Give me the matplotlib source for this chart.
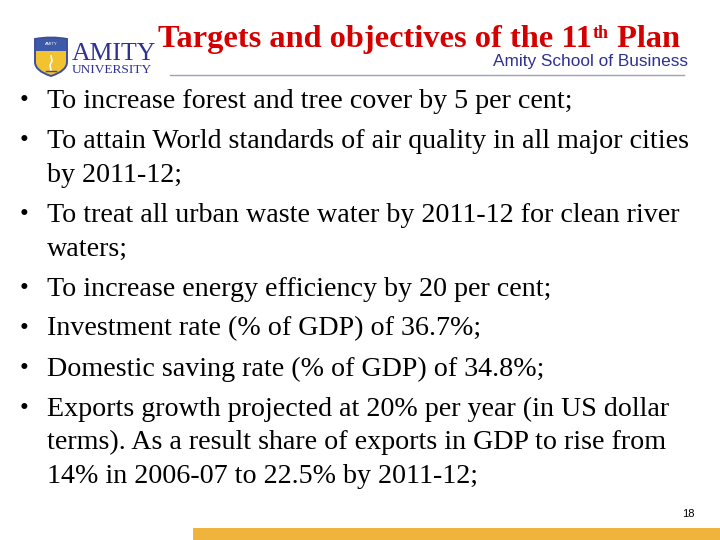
"""
Slide recreation: Targets and objectives of the 11th Plan.
"""
import matplotlib
matplotlib.use("Agg")
import matplotlib.pyplot as plt
import matplotlib.patches as mpatches
from matplotlib.path import Path as MPath

# ── Slide content ─────────────────────────────────────────────────────────────
title_main = "Targets and objectives of the 11"
title_sup = "th"
title_end = " Plan"
school = "Amity School of Business"
page_no = "18"

# each bullet is a list of its wrapped lines
bullets = [
    ["To increase forest and tree cover by 5 per cent;"],
    ["To attain World standards of air quality in all major cities",
     "by 2011-12;"],
    ["To treat all urban waste water by 2011-12 for clean river",
     "waters;"],
    ["To increase energy efficiency by 20 per cent;"],
    ["Investment rate (% of GDP) of 36.7%;"],
    ["Domestic saving rate (% of GDP) of 34.8%;"],
    ["Exports growth projected at 20% per year (in US dollar",
     "terms). As a result share of exports in GDP to rise from",
     "14% in 2006-07 to 22.5% by 2011-12;"],
]

SERIF = ["Liberation Serif", "DejaVu Serif"]
SANS = ["Liberation Sans", "DejaVu Sans"]
NAVY = "#2e3192"
RED = "#d40000"

fig = plt.figure(figsize=(7.2, 5.4), dpi=100)
ax = fig.add_axes([0, 0, 1, 1])
ax.set_xlim(0, 720)
ax.set_ylim(540, 0)
ax.axis("off")

# ── Logo ──────────────────────────────────────────────────────────────────────
verts = [(35, 39), (51, 36), (67, 39), (67, 62), (67, 71), (51, 76),
         (35, 71), (35, 62), (35, 39)]
codes = [MPath.MOVETO, MPath.CURVE3, MPath.CURVE3, MPath.LINETO, MPath.CURVE3,
         MPath.CURVE3, MPath.CURVE3, MPath.CURVE3, MPath.CLOSEPOLY]
shield_path = MPath(verts, codes)
ax.add_patch(mpatches.PathPatch(shield_path, facecolor="#f2c230",
                                edgecolor="none"))
top = mpatches.Rectangle((34, 35), 34, 16, facecolor="#3d5aa8",
                         edgecolor="none")
top.set_clip_path(mpatches.PathPatch(shield_path, transform=ax.transData))
ax.add_patch(top)
ax.add_patch(mpatches.PathPatch(shield_path, facecolor="none",
                                edgecolor="#3d4f9c", linewidth=1.4))
ax.text(51, 44, "AMITY", fontsize=3, color="white", ha="center",
        va="center", family=SANS)
ax.plot([51, 52, 50, 51], [56, 61, 65, 71], color="white", linewidth=1.2)
ax.plot([46, 56], [71, 71], color="#3d4f9c", linewidth=1.0)
ax.text(72, 60, "AMITY", fontsize=18.5, color=NAVY, ha="left",
        va="baseline", family=SERIF)
ax.text(72, 73, "UNIVERSITY", fontsize=9.6, color=NAVY, ha="left",
        va="baseline", family=SERIF)

# ── Title ─────────────────────────────────────────────────────────────────────
t1 = ax.text(158, 47, title_main, fontsize=23.3, color=RED,
             fontweight="bold", ha="left", va="baseline", family=SERIF)
fig.canvas.draw()
r = fig.canvas.get_renderer()
inv = ax.transData.inverted()
x_sup = inv.transform((t1.get_window_extent(r).x1, 0))[0]
t2 = ax.text(x_sup + 1, 38, title_sup, fontsize=13, color=RED,
             fontweight="bold", ha="left", va="baseline", family=SERIF)
x_end = inv.transform((t2.get_window_extent(r).x1, 0))[0]
ax.text(x_end, 47, title_end, fontsize=23.3, color=RED,
        fontweight="bold", ha="left", va="baseline", family=SERIF)

ax.text(688, 66, school, fontsize=12.4, color=NAVY, ha="right",
        va="baseline", family=SANS)
ax.plot([170, 684], [75, 75], color="#9aa3b9", linewidth=1.0)

# ── Bullets ───────────────────────────────────────────────────────────────────
y = 108
for lines in bullets:
    ax.text(20, y - 1, "\u2022", fontsize=18, color="black", ha="left",
            va="baseline", family=SERIF)
    for i, line in enumerate(lines):
        ax.text(47, y, line, fontsize=20.2, color="black", ha="left",
                va="baseline", family=SERIF)
        y += 33.8 if i < len(lines) - 1 else 40

# ── Footer ────────────────────────────────────────────────────────────────────
ax.text(695, 517, page_no, fontsize=8, color="black", ha="right",
        va="baseline", family=SANS)
ax.add_patch(mpatches.Rectangle((193, 528), 527, 12, facecolor="#f0b43c",
                                edgecolor="none"))

fig.savefig("out.png", dpi=100)
